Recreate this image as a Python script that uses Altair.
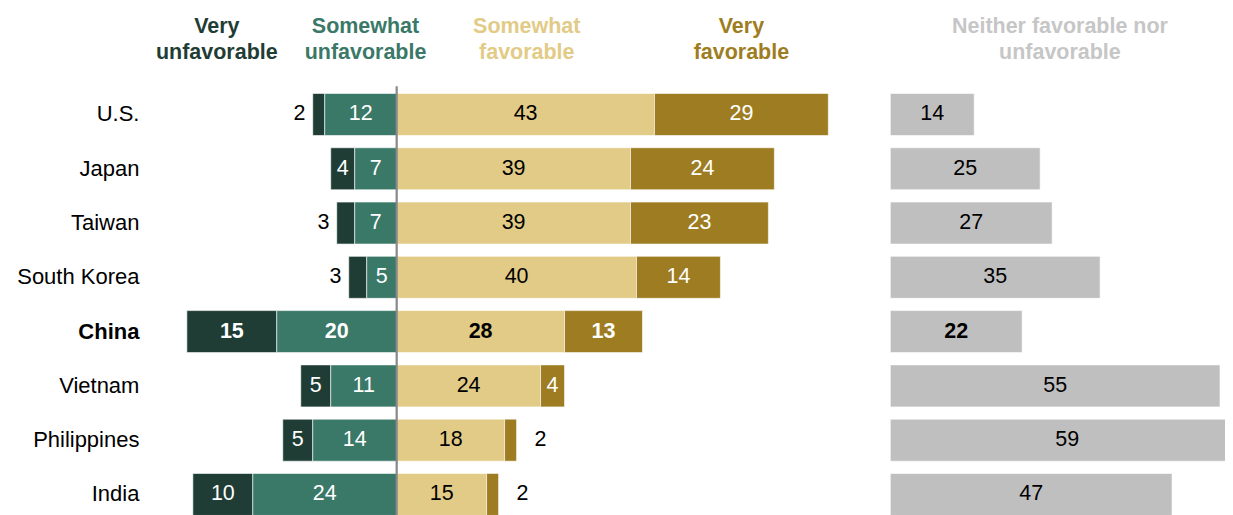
import altair as alt
import pandas as pd

# ---- data ----
countries = ["U.S.", "Japan", "Taiwan", "South Korea", "China", "Vietnam", "Philippines", "India"]
very_unfav = [2, 4, 3, 3, 15, 5, 5, 10]
somewhat_unfav = [12, 7, 7, 5, 20, 11, 14, 24]
somewhat_fav = [43, 39, 39, 40, 28, 24, 18, 15]
very_fav = [29, 24, 23, 14, 13, 4, 2, 2]
neither = [14, 25, 27, 35, 22, 55, 59, 47]

categories = ["Very unfavorable", "Somewhat unfavorable", "Somewhat favorable", "Very favorable"]
header_text = ["Very\nunfavorable", "Somewhat\nunfavorable", "Somewhat\nfavorable", "Very\nfavorable"]
header_at = [-30, -5.2, 21.7, 57.5]
neither_header = "Neither favorable nor\nunfavorable"
neither_header_at = 28.3

# ---- styling ----
seg_colors = ["#1f3d35", "#3a7868", "#e2cb86", "#9e7d22"]
seg_text_colors = ["#ffffff", "#ffffff", "#000000", "#ffffff"]
neither_color = "#bfbfbf"
neither_header_color = "#c6c6c6"
FONT = "Liberation Sans"
H = 437
X_DOMAIN = [-35, 72]
NX_DOMAIN = [0, 335 / 6]

# ---- build tables ----
seg_rows = []
lab_rows = []
for i, c in enumerate(countries):
    vu, su, sf, vf = very_unfav[i], somewhat_unfav[i], somewhat_fav[i], very_fav[i]
    spans = [(-(vu + su), -su, vu), (-su, 0, su), (0, sf, sf), (sf, sf + vf, vf)]
    for k, (a, b, v) in enumerate(spans):
        seg_rows.append({"country": c, "cat": categories[k], "start": a, "end": b,
                         "color": seg_colors[k]})
        if v >= 4:
            lx, tc = (a + b) / 2, seg_text_colors[k]
        elif k == 0:
            lx, tc = a - 2.2, "#000000"
        else:
            lx, tc = b + 4.0, "#000000"
        lab_rows.append({"country": c, "lx": lx, "label": str(v), "tcolor": tc})

seg_df = pd.DataFrame(seg_rows)
lab_df = pd.DataFrame(lab_rows)
head_df = pd.DataFrame({"text": header_text, "hx": header_at, "hcolor": seg_colors})
neither_df = pd.DataFrame({"country": countries, "value": neither,
                           "mid": [v / 2 for v in neither]})
nhead_df = pd.DataFrame({"text": [neither_header], "hx": [neither_header_at]})

xscale = alt.Scale(domain=X_DOMAIN, nice=False, zero=False)
nxscale = alt.Scale(domain=NX_DOMAIN, nice=False)
yscale = alt.Scale(paddingInner=0.226, paddingOuter=0.135)

y_axis = alt.Axis(title=None, domain=False, ticks=False, labelPadding=48,
                  minExtent=174, maxExtent=174, labelFont=FONT, labelFontSize=22,
                  labelColor="#000000", labelLimit=300,
                  labelFontWeight={"condition": {"test": "datum.value === 'China'", "value": "bold"},
                                   "value": "normal"})

Y = alt.Y("country:N", sort=countries, scale=yscale, axis=y_axis)
Yn = alt.Y("country:N", sort=countries, scale=yscale, axis=None)

bars = alt.Chart(seg_df).mark_bar(stroke="white", strokeWidth=0.6).encode(
    x=alt.X("start:Q", scale=xscale, axis=None),
    x2="end:Q",
    y=Y,
    color=alt.Color("color:N", scale=None),
)

labels_norm = alt.Chart(lab_df).transform_filter("datum.country !== 'China'").mark_text(
    font=FONT, fontSize=21.5, baseline="middle", align="center").encode(
    x=alt.X("lx:Q", scale=xscale, axis=None), y=Y, text="label:N",
    color=alt.Color("tcolor:N", scale=None))

labels_bold = alt.Chart(lab_df).transform_filter("datum.country === 'China'").mark_text(
    font=FONT, fontSize=21.5, fontWeight="bold", baseline="middle", align="center").encode(
    x=alt.X("lx:Q", scale=xscale, axis=None), y=Y, text="label:N",
    color=alt.Color("tcolor:N", scale=None))

headers = alt.Chart(head_df).mark_text(
    font=FONT, fontSize=21.5, fontWeight="bold", baseline="alphabetic", align="center",
    lineBreak="\n", lineHeight=26).encode(
    x=alt.X("hx:Q", scale=xscale, axis=None), y=alt.value(-53), text="text:N",
    color=alt.Color("hcolor:N", scale=None))

rule = alt.Chart(pd.DataFrame({"z": [0]})).mark_rule(color="#888888", strokeWidth=2.2).encode(
    x=alt.X("z:Q", scale=xscale, axis=None), y=alt.value(0), y2=alt.value(H))

left = alt.layer(bars, rule, labels_norm, labels_bold, headers).properties(width=642, height=H)

nbars = alt.Chart(neither_df).mark_bar(color=neither_color, stroke="white", strokeWidth=0.6,
                                       clip=True).encode(
    x=alt.X("value:Q", scale=nxscale, axis=None), y=Yn)
ntext = alt.Chart(neither_df).transform_filter("datum.country !== 'China'").mark_text(
    font=FONT, fontSize=21.5, baseline="middle", align="center", color="#000000").encode(
    x=alt.X("mid:Q", scale=nxscale, axis=None), y=Yn, text="value:N")
ntext_b = alt.Chart(neither_df).transform_filter("datum.country === 'China'").mark_text(
    font=FONT, fontSize=21.5, fontWeight="bold", baseline="middle", align="center",
    color="#000000").encode(
    x=alt.X("mid:Q", scale=nxscale, axis=None), y=Yn, text="value:N")
nhead = alt.Chart(nhead_df).mark_text(
    font=FONT, fontSize=21.5, fontWeight="bold", baseline="alphabetic", align="center",
    lineBreak="\n", lineHeight=26, color=neither_header_color).encode(
    x=alt.X("hx:Q", scale=nxscale, axis=None), y=alt.value(-53), text="text:N")

right = alt.layer(nbars, ntext, ntext_b, nhead).properties(width=335, height=H)

chart = alt.hconcat(left, right, spacing=61).properties(
    padding={"left": 5, "top": 8, "right": 0, "bottom": 0}
).configure_view(stroke=None)

chart.save("out.html", embed_options={"renderer": "svg", "actions": False})
